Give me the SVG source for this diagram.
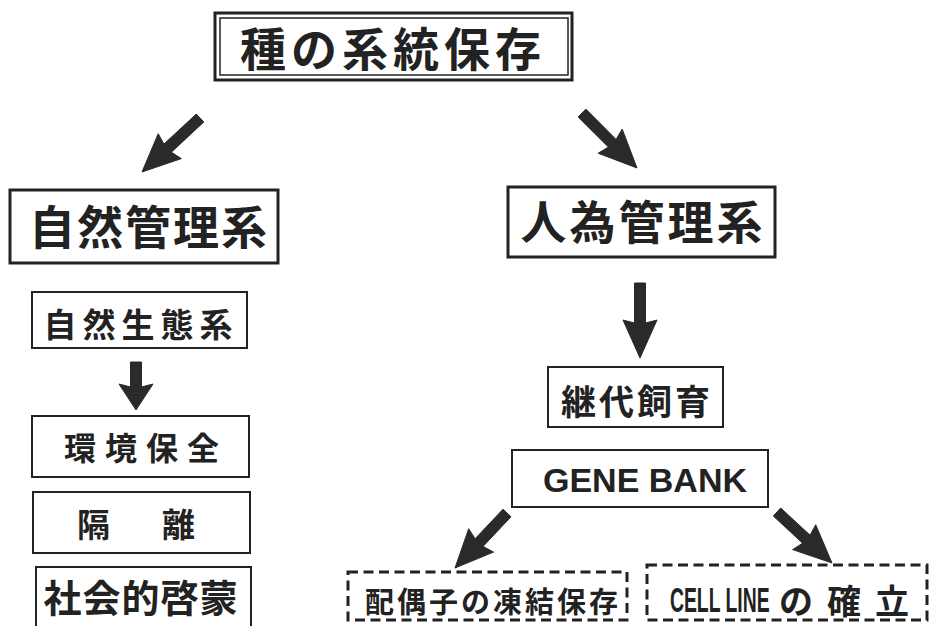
<svg xmlns="http://www.w3.org/2000/svg" width="932" height="626" viewBox="0 0 932 626">
<style>
.box{fill:#fff;stroke:#222;}
.b3{stroke-width:3;}
.b2{stroke-width:2;}
.dash{fill:#fff;stroke:#222;stroke-width:3;stroke-dasharray:10 5.5;}
.jp{font-family:"Noto Sans CJK JP","Noto Sans CJK SC",sans-serif;font-weight:bold;fill:#222;dominant-baseline:central;text-anchor:middle;}
.js{font-family:"Noto Sans CJK JP","Noto Sans CJK SC",sans-serif;font-weight:bold;fill:#222;dominant-baseline:central;}
.en{font-family:"Liberation Sans",Arial,sans-serif;font-weight:bold;fill:#222;}
.arr{fill:#2a2a2a;stroke:#2a2a2a;stroke-width:1;stroke-linejoin:round;}
</style>
<rect width="932" height="626" fill="#fff"/>

<g id="connectors">
<polygon class="arr" points="196.3,114 163.9,144.1 158.2,133.7 142,172 181.4,158.6 171.4,152.2 203.8,122"/>
<polygon class="arr" points="578.1,116.9 608.4,147.1 598.1,153.2 637,168 622.2,129.1 616.1,139.4 585.9,109.1"/>
<polygon class="arr" points="130.5,362 130.5,387 119,384 136,410 153,384 141.5,387 141.5,362"/>
<polygon class="arr" points="634.5,283 634.5,323 623,320 640,358 657,320 645.5,323 645.5,283"/>
<polygon class="arr" points="503,509.2 475.1,538.8 468.7,528.7 455,568 493.5,552.1 483.1,546.4 511,516.8"/>
<polygon class="arr" points="773.3,516 802.6,543.2 792.6,549.6 832,563 815.7,524.7 810.1,535.2 780.7,508"/>
</g>

<g id="title">
<rect class="box" x="215" y="13" width="357" height="67" stroke-width="3"/>
<rect fill="none" stroke="#222" stroke-width="1.5" x="220" y="18" width="348" height="57"/>
<text class="jp" x="393" y="46" font-size="46" letter-spacing="5">種の系統保存</text>
</g>

<g id="natural">
<rect class="box b3" x="10" y="190" width="268" height="73"/>
<text class="jp" x="149" y="224" font-size="46" letter-spacing="2">自然管理系</text>
</g>

<g id="artificial">
<rect class="box b3" x="508" y="187" width="267" height="70"/>
<text class="jp" x="643" y="219" font-size="46" letter-spacing="3">人為管理系</text>
</g>

<g id="ecosystem">
<rect class="box b2" x="32" y="292" width="215" height="56"/>
<text class="jp" x="141" y="322.5" font-size="33" letter-spacing="6">自然生態系</text>
</g>

<g id="env">
<rect class="box b2" x="32" y="416" width="217" height="61"/>
<text class="jp" x="146" y="446" font-size="32" letter-spacing="9">環境保全</text>
</g>

<g id="isolation">
<rect class="box b2" x="33" y="492" width="217" height="61"/>
<text class="js" x="77" y="522.5" font-size="33" letter-spacing="52">隔離</text>
</g>

<g id="education">
<rect class="box b2" x="36" y="567" width="215" height="80"/>
<text class="jp" x="141" y="595.5" font-size="38" letter-spacing="1">社会的啓蒙</text>
</g>

<g id="breeding">
<rect class="box b2" x="548" y="367" width="175" height="60"/>
<text class="jp" x="637" y="399" font-size="35" letter-spacing="3">継代飼育</text>
</g>

<g id="genebank">
<rect class="box b2" x="512" y="450" width="256" height="57"/>
<text class="en" x="543" y="492" font-size="34" textLength="204" lengthAdjust="spacingAndGlyphs">GENE BANK</text>
</g>

<g id="gamete">
<rect class="dash" x="348" y="572" width="279" height="48"/>
<text class="jp" x="493" y="600" font-size="29" letter-spacing="3">配偶子の凍結保存</text>
</g>

<g id="cellline">
<rect class="dash" x="647" y="565" width="280" height="55"/>
<text class="en" transform="translate(670,612) scale(0.553,1)" x="0" y="0" font-size="35">CELL LINE</text>
<text class="js" x="779" y="599" font-size="34" letter-spacing="14">の確立</text>
</g>
</svg>
